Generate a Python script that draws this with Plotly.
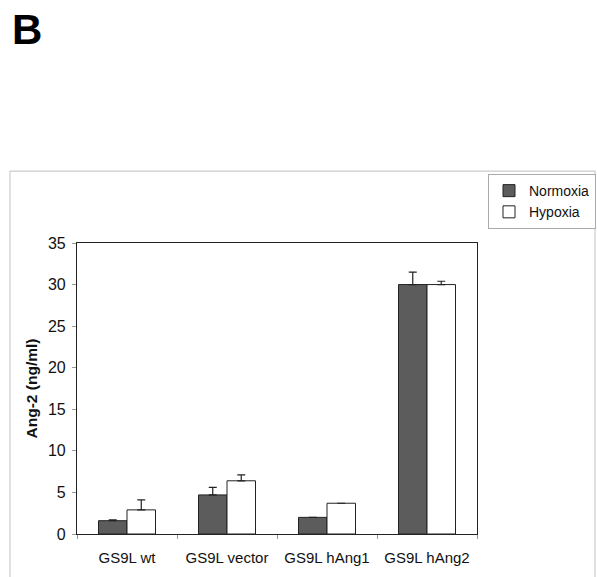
import plotly.graph_objects as go

categories = ["GS9L wt", "GS9L vector", "GS9L hAng1", "GS9L hAng2"]
normoxia = [1.6, 4.7, 2.0, 30.0]
normoxia_err = [0.1, 0.9, None, 1.5]
hypoxia = [2.9, 6.4, 3.7, 30.0]
hypoxia_err = [1.2, 0.7, None, 0.4]
y_ticks = [0, 5, 10, 15, 20, 25, 30, 35]

FONT = "Liberation Sans, Arial, sans-serif"

fig = go.Figure()
fig.add_trace(go.Bar(
    name="Normoxia", x=categories, y=normoxia,
    marker=dict(color="#5c5c5c", line=dict(color="#222222", width=1)),
    error_y=dict(type="data", array=normoxia_err, arrayminus=[0]*4, symmetric=False,
                 color="#222222", thickness=1.2, width=4, visible=True),
))
fig.add_trace(go.Bar(
    name="Hypoxia", x=categories, y=hypoxia,
    marker=dict(color="white", line=dict(color="#222222", width=1)),
    error_y=dict(type="data", array=hypoxia_err, arrayminus=[0]*4, symmetric=False,
                 color="#222222", thickness=1.2, width=4, visible=True),
))

fig.update_layout(
    width=597, height=577,
    margin=dict(l=77, r=120, t=243, b=43, autoexpand=False),
    paper_bgcolor="white", plot_bgcolor="white",
    barmode="group", bargap=0.43, bargroupgap=0,
    font=dict(family=FONT, size=14, color="#111111"),
    showlegend=True,
    legend=dict(x=1.0275, y=1.237, xanchor="left", yanchor="top",
                bgcolor="white", bordercolor="#aaaaaa", borderwidth=1,
                font=dict(size=14), itemwidth=30),
    xaxis=dict(showline=True, linecolor="#222222", linewidth=1.2, mirror=True,
               ticks="outside", tickson="boundaries", ticklen=4, tickcolor="#999999",
               showgrid=False, tickfont=dict(size=15), ticklabelstandoff=10),
    yaxis=dict(range=[0, 35], tickvals=y_ticks, showline=True, linecolor="#222222",
               linewidth=1.2, mirror=True, ticks="outside", ticklen=4, tickcolor="#999999",
               showgrid=False, zeroline=False, tickfont=dict(size=16), ticklabelstandoff=3,
               title=dict(text="<b>Ang-2 (ng/ml)</b>", font=dict(size=15.5), standoff=6)),
    shapes=[dict(type="rect", xref="paper", yref="paper",
                 x0=-0.1675, x1=1.295, y0=-0.16, y1=1.247,
                 line=dict(color="#cccccc", width=1.2), layer="below")],
    annotations=[dict(text="<b>B</b>", xref="paper", yref="paper",
                      x=-0.1675, y=1.82, xanchor="left", yanchor="top",
                      showarrow=False, font=dict(size=42, color="black"))],
)

fig.write_html("out.html", config={"displayModeBar": False},
               post_script="document.body.style.margin='0';document.body.style.overflow='hidden';")
